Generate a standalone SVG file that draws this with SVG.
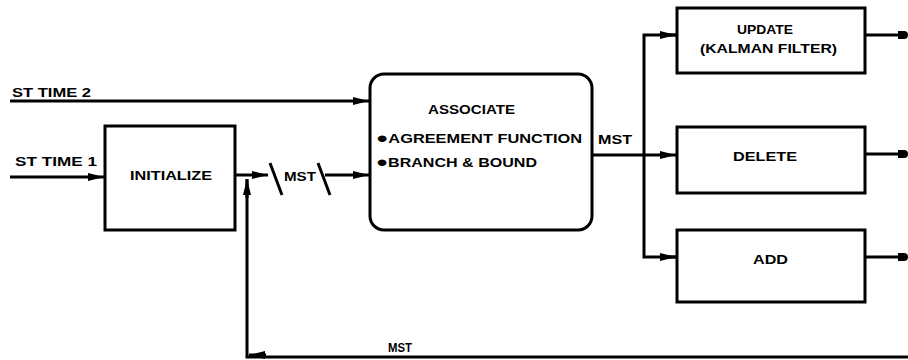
<svg xmlns="http://www.w3.org/2000/svg" width="908" height="360" viewBox="0 0 908 360">
<style>
.box{fill:#fff;stroke:#000;stroke-width:3}
.ln{fill:none;stroke:#000;stroke-width:3}
.t{font-family:"Liberation Sans",Arial,sans-serif;font-weight:bold;font-size:12px;fill:#000}
.b{font-size:15px}
</style>
<defs>
<marker id="ah" viewBox="0 0 16 10" refX="16" refY="5" markerWidth="16" markerHeight="10" markerUnits="userSpaceOnUse" orient="auto">
<path d="M0,1 L16,5 L0,9 Z" fill="#000"/>
</marker>
<marker id="dot" viewBox="0 0 10 10" refX="5" refY="5" markerWidth="10" markerHeight="10" markerUnits="userSpaceOnUse" orient="auto">
<path d="M0,1 L6,1 Q10,1 10,5 Q10,9 6,9 L0,9 Z" fill="#000"/>
</marker>
</defs>
<g id="connectors">
<line class="ln" x1="10" y1="101" x2="369" y2="101" marker-end="url(#ah)"/>
<line class="ln" x1="10" y1="177" x2="104" y2="177" marker-end="url(#ah)"/>
<line class="ln" x1="235" y1="175" x2="268" y2="175" marker-end="url(#ah)"/>
<line class="ln" x1="270" y1="163" x2="282" y2="195"/>
<line class="ln" x1="318" y1="163" x2="330" y2="195"/>
<line class="ln" x1="325" y1="175" x2="369" y2="175" marker-end="url(#ah)"/>
<line class="ln" x1="592" y1="155" x2="676" y2="155" marker-end="url(#ah)"/>
<polyline class="ln" points="676,35 644,35 644,257 676,257"/>
<line class="ln" x1="660" y1="35" x2="676" y2="35" marker-end="url(#ah)"/>
<line class="ln" x1="660" y1="257" x2="676" y2="257" marker-end="url(#ah)"/>
<line class="ln" x1="865" y1="35" x2="903" y2="35" marker-end="url(#dot)"/>
<line class="ln" x1="865" y1="154" x2="903" y2="154" marker-end="url(#dot)"/>
<line class="ln" x1="865" y1="257" x2="903" y2="257" marker-end="url(#dot)"/>
<polyline class="ln" points="908,357 247,357 247,180"/>
<line class="ln" x1="247" y1="198" x2="247" y2="179" marker-end="url(#ah)"/>
<line class="ln" x1="266" y1="355" x2="249" y2="355" marker-end="url(#ah)"/>
<text class="t" x="284" y="181" textLength="32" lengthAdjust="spacingAndGlyphs">MST</text>
<text class="t" x="598" y="144" textLength="34" lengthAdjust="spacingAndGlyphs">MST</text>
<text class="t" x="388" y="352" textLength="24" lengthAdjust="spacingAndGlyphs">MST</text>
<text class="t" x="12" y="97" textLength="79" lengthAdjust="spacingAndGlyphs">ST TIME 2</text>
<text class="t" x="15" y="166" textLength="82" lengthAdjust="spacingAndGlyphs">ST  TIME 1</text>
</g>
<g id="initialize">
<rect class="box" x="105" y="126" width="130" height="104"/>
<text class="t" x="130" y="180" textLength="82" lengthAdjust="spacingAndGlyphs">INITIALIZE</text>
</g>
<g id="associate">
<rect class="box" x="370" y="74" width="222" height="156" rx="14"/>
<text class="t" x="428" y="114" textLength="87" lengthAdjust="spacingAndGlyphs">ASSOCIATE</text>
<text class="t" x="376" y="143" textLength="206" lengthAdjust="spacingAndGlyphs"><tspan class="b">●</tspan>AGREEMENT FUNCTION</text>
<text class="t" x="376" y="167" textLength="161" lengthAdjust="spacingAndGlyphs"><tspan class="b">●</tspan>BRANCH &amp; BOUND</text>
</g>
<g id="update">
<rect class="box" x="677" y="8" width="188" height="65"/>
<text class="t" x="737" y="34" textLength="56" lengthAdjust="spacingAndGlyphs">UPDATE</text>
<text class="t" x="700" y="53" textLength="137" lengthAdjust="spacingAndGlyphs">(KALMAN FILTER)</text>
</g>
<g id="delete">
<rect class="box" x="677" y="127" width="188" height="66"/>
<text class="t" x="733" y="161" textLength="64" lengthAdjust="spacingAndGlyphs">DELETE</text>
</g>
<g id="add">
<rect class="box" x="677" y="230" width="188" height="72"/>
<text class="t" x="753" y="264" textLength="35" lengthAdjust="spacingAndGlyphs">ADD</text>
</g>
</svg>
